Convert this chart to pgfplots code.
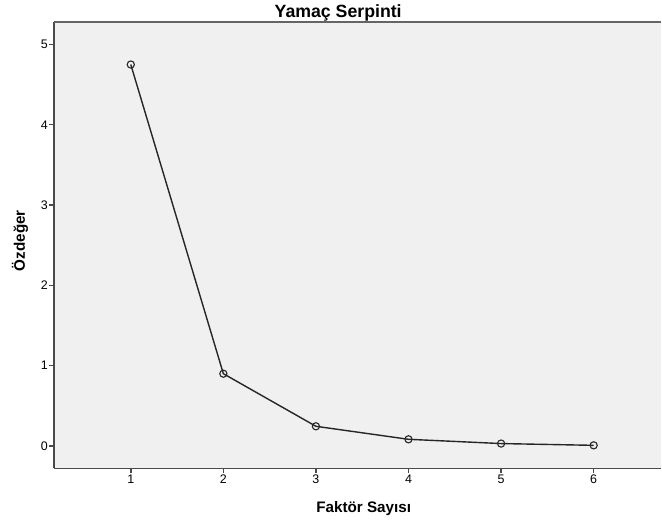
\documentclass[border=0pt]{standalone}
\usepackage{pgfplots}
\pgfplotsset{compat=1.18}
\usepackage{fontspec}
\setmainfont{Liberation Sans}
\definecolor{plotbg}{HTML}{F0F0F0}
\definecolor{axisgray}{HTML}{4A4A4A}
\begin{document}
\begin{tikzpicture}[x=1bp,y=1bp]
% page frame (invisible) fixes the picture size
\path (0,0) rectangle (662,525);
\begin{axis}[
  at={(54bp,56bp)}, anchor=south west,
  scale only axis, width=608bp, height=447bp,
  xmin=0.17, xmax=6.73, ymin=-0.28, ymax=5.28,
  axis lines*=left,
  axis line style={axisgray, line width=1.5bp},
  axis background/.style={fill=plotbg},
  xtick={1,2,3,4,5,6}, ytick={0,1,2,3,4,5},
  tick align=outside, major tick length=5bp,
  tick style={axisgray, line width=1.5bp},
  /pgf/number format/assume math mode=true,
  ticklabel style={font=\fontsize{12.5}{14}\selectfont, text=black},
  xticklabel style={inner sep=1bp},
  yticklabel style={inner sep=1bp},
  xlabel={\textbf{Faktör Sayısı}},
  ylabel={\textbf{Özdeğer}},
  label style={font=\fontsize{15.3}{17}\selectfont, inner sep=0pt},
  xlabel style={at={(0.51,0)}, anchor=base, yshift=-44.5bp},
  ylabel style={at={(0,0.51)}, anchor=base, yshift=29bp},
  title={\textbf{Yamaç Serpinti}},
  title style={font=\fontsize{17.8}{19}\selectfont, inner sep=0pt,
    at={(0.468,1)}, anchor=base, yshift=-1.4bp},
  clip=false,
  extra description/.code={\draw[axisgray!85, line width=1.5bp] (rel axis cs:0,1) -- (rel axis cs:1,1);},
]
\addplot[black!85, line width=1.4bp, mark=o, mark size=3.6bp, mark options={line width=1.1bp}]
  coordinates {(1,4.75) (2,0.90) (3,0.245) (4,0.083) (5,0.030) (6,0.008)};
\end{axis}
\end{tikzpicture}
\end{document}
